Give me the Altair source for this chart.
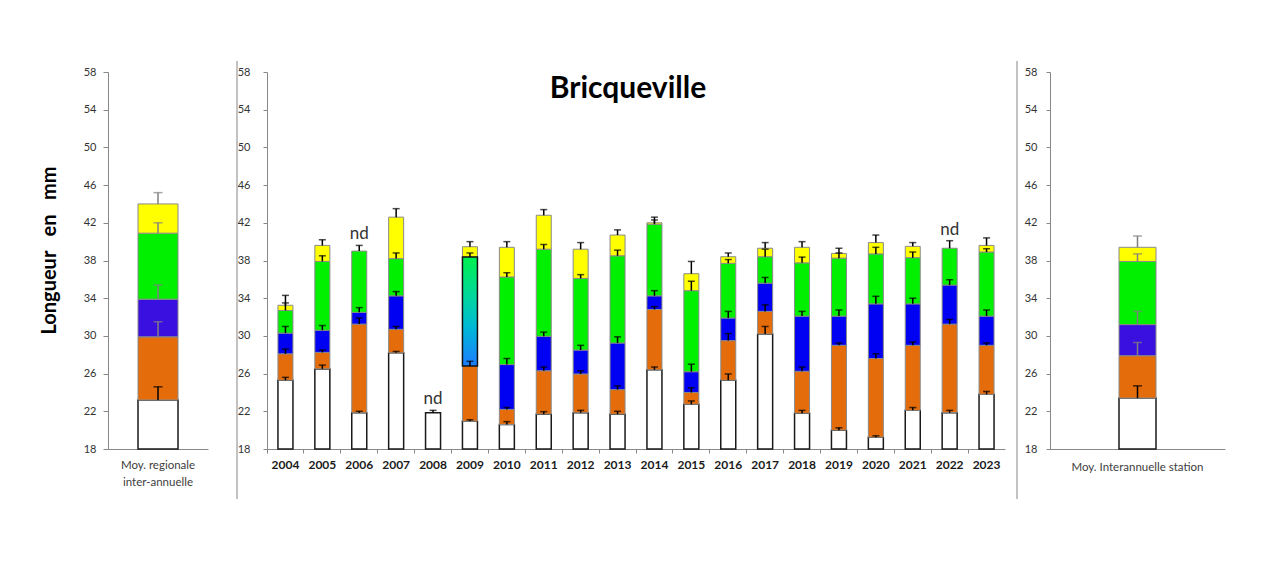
import altair as alt
import pandas as pd

# ---------------- data ----------------
years = [str(y) for y in range(2004, 2024)]
white_top  = [25.3, 26.5, 21.85, 28.2, 21.85, 20.96, 20.6, 21.7, 21.85, 21.7, 26.4, 22.75, 25.3, 30.2, 21.8, 20.0, 19.25, 22.1, 21.85, 23.8]
white_err  = [25.6, 26.9, 22.0, 28.35, 22.1, 21.1, 20.9, 21.96, 22.1, 22.0, 26.7, 23.1, 25.96, 31.0, 22.1, 20.25, 19.4, 22.4, 22.1, 24.1]
orange_top = [28.1, 28.25, 31.25, 30.7, None, 26.8, 22.2, 26.3, 25.96, 24.3, 32.8, 24.0, 29.5, 32.6, 26.25, 29.0, 27.6, 29.0, 31.25, 29.0]
orange_err = [28.6, 28.5, 31.9, 31.0, None, 27.3, 22.4, 26.7, 26.3, 24.7, 33.1, 24.5, 30.25, 33.3, 26.7, 29.25, 28.1, 29.35, 31.75, 29.25]
blue_top   = [30.3, 30.6, 32.5, 34.25, None, None, 26.96, 29.96, 28.5, 29.25, 34.25, 26.2, 31.9, 35.6, 32.1, 32.1, 33.4, 33.4, 35.4, 32.1]
blue_err   = [31.0, 31.1, 33.0, 34.7, None, None, 27.6, 30.4, 29.0, 29.9, 34.8, 27.0, 32.6, 36.2, 32.6, 32.75, 34.2, 34.0, 35.96, 32.75]
green_top  = [32.7, 37.9, 39.0, 38.2, None, 38.36, 36.25, 39.2, 36.1, 38.5, 41.85, 34.8, 37.7, 38.4, 37.75, 38.25, 38.7, 38.3, 39.3, 38.9]
green_err  = [33.5, 38.5, 39.6, 38.8, None, 38.8, 36.7, 39.7, 36.5, 39.1, 42.3, 35.8, 38.1, 39.2, 38.36, 38.8, 39.4, 38.9, 40.1, 39.25]
yellow_top = [33.25, 39.6, None, 42.6, None, 39.46, 39.4, 42.8, 39.2, 40.7, 42.0, 36.6, 38.4, 39.3, 39.4, 38.75, 39.9, 39.5, None, 39.6]
yellow_err = [34.3, 40.2, None, 43.5, None, 40.0, 40.0, 43.4, 39.9, 41.25, 42.6, 37.9, 38.8, 39.9, 40.0, 39.3, 40.7, 39.9, None, 40.4]
mixed_years = ["2009"]          # blue + green not separated (gradient bar)
nd_years = ["2006", "2008", "2022"]

regional_cat = "Moy. regionale|inter-annuelle"
regional_top = [23.2, 29.9, 33.9, 40.9, 44.0]
regional_err = [24.6, 31.5, 35.4, 42.0, 45.2]

station_cat = "Moy. Interannuelle station"
station_top = [23.4, 27.9, 31.2, 37.9, 39.4]
station_err = [24.7, 29.3, 32.6, 38.7, 40.6]

title_text = "Bricqueville"
y_title = "Longueur\u00a0\u00a0\u00a0en\u00a0\u00a0\u00a0mm"
y_ticks = list(range(18, 59, 4))

# ---------------- styles ----------------
FONT = "Lato"
ORANGE = "#E46C0A"
BLUE_MAIN = "#0000F2"
BLUE_SIDE = "#3A10E0"
GREEN = "#00F000"
YELLOW = "#FFFF00"
GRAYLINE = "#9a9a9a"


def build_rows(cat, tops, errs, blue, mixed=False, side=False):
    rows = []
    colors = ["#FFFFFF", ORANGE, blue, GREEN, YELLOW]
    lo = 18
    for i, (t, e) in enumerate(zip(tops, errs)):
        if t is None:
            continue
        kind = "white" if i == 0 else ("mix" if (mixed and i == 3) else "color")
        ecol = "#000000" if (i == 0 or not side) else "#7F7F7F"
        rows.append(dict(cat=cat, lo=lo, hi=t, err=e, fill=colors[i], kind=kind, ecol=ecol))
        lo = t
    return rows


main_rows = []
for j, yr in enumerate(years):
    tops = [white_top[j], orange_top[j], blue_top[j], green_top[j], yellow_top[j]]
    errs = [white_err[j], orange_err[j], blue_err[j], green_err[j], yellow_err[j]]
    main_rows += build_rows(yr, tops, errs, BLUE_MAIN, mixed=yr in mixed_years)
main_df = pd.DataFrame(main_rows)

left_df = pd.DataFrame(build_rows(regional_cat, regional_top, regional_err, BLUE_SIDE, side=True))
right_df = pd.DataFrame(build_rows(station_cat, station_top, station_err, BLUE_SIDE, side=True))


def top_err(y):
    j = years.index(y)
    return max(e for e in [white_err[j], orange_err[j], blue_err[j], green_err[j], yellow_err[j]] if e is not None)


nd_df = pd.DataFrame({"cat": nd_years, "y": [top_err(y) for y in nd_years], "t": ["nd"] * len(nd_years)})

ys = alt.Scale(domain=[18, 58], nice=False, zero=False)


def panel(data, sort, x_axis, y_axis, bar_size, cap_size):
    xs = alt.Scale(paddingInner=0, paddingOuter=0)

    def X():
        return alt.X("cat:N", sort=sort, scale=xs, axis=x_axis, title=None)

    def Y(f):
        return alt.Y(f, scale=ys, axis=y_axis)

    base = alt.Chart(data)
    white = base.transform_filter("datum.kind == 'white'").mark_bar(
        size=bar_size, stroke="#1a1a1a", strokeWidth=1.5, fill="white"
    ).encode(x=X(), y=Y("hi:Q"), y2="lo:Q")
    col = base.transform_filter("datum.kind == 'color'").mark_bar(
        size=bar_size, stroke="#8a8a8a", strokeWidth=1
    ).encode(x=X(), y=Y("hi:Q"), y2="lo:Q", fill=alt.Fill("fill:N", scale=None))
    grad = alt.LinearGradient(
        gradient="linear",
        stops=[alt.GradientStop(offset=0, color="#00F050"),
               alt.GradientStop(offset=0.35, color="#00D89A"),
               alt.GradientStop(offset=0.65, color="#00B8D8"),
               alt.GradientStop(offset=1, color="#1E7CFF")],
        x1=0, x2=0, y1=0, y2=1)
    mix = base.transform_filter("datum.kind == 'mix'").mark_bar(
        size=bar_size, stroke="#111111", strokeWidth=1.5, fill=grad
    ).encode(x=X(), y=Y("hi:Q"), y2="lo:Q")
    erule = base.mark_rule(strokeWidth=1.5).encode(
        x=X(), y=Y("hi:Q"), y2="err:Q", color=alt.Color("ecol:N", scale=None))
    ecap = base.mark_tick(size=cap_size, thickness=1.5).encode(
        x=X(), y=Y("err:Q"), color=alt.Color("ecol:N", scale=None))
    return [white, col, mix, erule, ecap], X, Y


# ---------------- left panel ----------------
left_x_axis = alt.Axis(labelAngle=0, ticks=False, tickSize=0, labelPadding=10, labelFont=FONT,
                       labelFontSize=11.5, labelColor="#404040", domainColor="#888888",
                       labelExpr="split(datum.label, '|')", labelLineHeight=17)
left_y_axis = alt.Axis(values=y_ticks, grid=False, tickSize=5, tickColor="#888888", domainColor="#888888",
                       labelPadding=7, labelFont=FONT, labelFontSize=11, labelColor="#333333",
                       title=y_title, titleFont=FONT, titleFontSize=20, titleFontWeight="bold",
                       titleColor="#000000", titlePadding=24, titleY=178)
left_layers, _, _ = panel(left_df, [regional_cat], left_x_axis, left_y_axis, 40, 9)
left_spacer = alt.Chart(alt.Data(values=[{}])).mark_rule(color="white", strokeWidth=1).encode(
    x=alt.value(-80), x2=alt.value(116), y=alt.value(-11))
left = alt.layer(*left_layers, left_spacer).properties(width=100, height=377)

# ---------------- main panel ----------------
main_x_axis = alt.Axis(labelAngle=0, bandPosition=0, tickSize=4, tickColor="#888888", domainColor="#888888",
                       labelPadding=6, labelFont=FONT, labelFontSize=12,
                       labelFontWeight="bold", labelColor="#1a1a1a")
main_y_axis = alt.Axis(values=y_ticks, grid=False, tickSize=4, tickColor="#888888", domainColor="#888888",
                       labelPadding=13, labelFont=FONT, labelFontSize=11, labelColor="#333333", title=None)
main_layers, MX, MY = panel(main_df, years, main_x_axis, main_y_axis, 15, 7)
nd_text = alt.Chart(nd_df).mark_text(font=FONT, fontSize=17, color="#333333", baseline="alphabetic", dy=-6).encode(
    x=MX(), y=MY("y:Q"), text="t:N")
title_mark = alt.Chart(alt.Data(values=[{"t": title_text}])).mark_text(
    font=FONT, fontSize=30, fontWeight="bold", color="#000000").encode(
    text="t:N", x=alt.value(361), y=alt.value(17))
sep_main = alt.Chart(alt.Data(values=[{}])).mark_rule(color=GRAYLINE, strokeWidth=1.2).encode(
    x=alt.value(-30), y=alt.value(-11), y2=alt.value(427))
main = alt.layer(*main_layers, nd_text, title_mark, sep_main).properties(width=738, height=377)

# ---------------- right panel ----------------
right_x_axis = alt.Axis(labelAngle=0, ticks=False, tickSize=0, labelPadding=12, labelFont=FONT,
                        labelFontSize=11.5, labelColor="#404040", domainColor="#888888")
right_y_axis = alt.Axis(values=y_ticks, grid=False, tickSize=4, tickColor="#888888", domainColor="#888888",
                        labelPadding=9, labelFont=FONT, labelFontSize=11, labelColor="#333333", title=None)
right_layers, _, _ = panel(right_df, [station_cat], right_x_axis, right_y_axis, 37, 9)
sep_right = alt.Chart(alt.Data(values=[{}])).mark_rule(color=GRAYLINE, strokeWidth=1.2).encode(
    x=alt.value(-33), y=alt.value(-11), y2=alt.value(427))
right = alt.layer(*right_layers, sep_right).properties(width=175, height=377)

chart = alt.hconcat(left, main, right, spacing=11).properties(
    padding={"left": 19, "top": 52, "right": 5, "bottom": 5}
).configure(font=FONT, background="white").configure_view(strokeWidth=0, stroke="transparent")

chart.save("out.html", embed_options={"renderer": "svg", "actions": False})
